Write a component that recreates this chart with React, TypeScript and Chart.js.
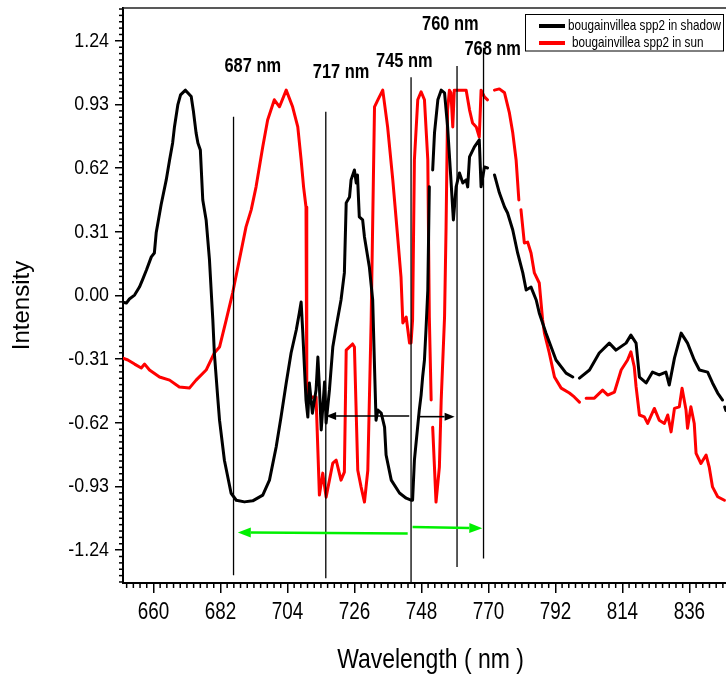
import { useEffect, useRef } from 'react';
import { Chart, registerables } from 'chart.js';

Chart.register(...registerables);

// ---------- data (wavelength in nm, normalised intensity) ----------
const shadowWavelength = [
  650.0, 651.1, 652.1, 653.8, 655.4, 656.4, 657.7, 659.3, 660.3, 660.9,
  662.5, 664.2, 665.3, 666.3, 666.9, 668.0, 668.9, 670.5, 672.4, 673.1,
  674.0, 674.6, 675.4, 676.2, 677.3, 678.4, 679.0, 679.5, 680.0, 681.1,
  681.7, 683.3, 685.5, 687.2, 689.9, 692.6, 695.9, 698.1, 700.3, 701.9,
  703.6, 705.2, 706.9, 707.9, 708.5, 709.0, 710.1, 710.7, 711.2, 712.2,
  713.4, 714.0, 714.5, 715.1, 716.2, 716.7, 717.8, 718.9, 720.0, 721.6,
  722.7, 723.3, 724.4, 724.9, 726.0, 726.6, 727.0, 727.6, 728.7, 729.3,
  730.9, 732.0, 732.6, 733.1, 733.7, 734.8, 735.9, 736.4, 738.1, 740.8,
  743.0, 744.6, 745.1, 745.7, 747.3, 747.9, 748.4, 749.0, 749.5, 750.1,
  750.6, 751.1, 751.7, 752.3, 753.4, 754.5, 755.6, 756.6, 757.7, 758.5,
  759.4, 760.5, 761.6, 762.7, 763.2, 763.8, 765.4, 767.0, 767.6, 768.7,
  769.7, 770.8, 772.0, 773.6, 775.3, 776.3, 778.0, 779.6, 781.3, 782.4,
  784.0, 785.7, 786.7, 788.9, 792.2, 795.5, 797.7, 798.8, 799.9, 803.2,
  806.4, 809.7, 811.9, 815.2, 816.8, 818.5, 819.6, 821.8, 823.9, 826.1,
  828.3, 829.4, 831.1, 833.3, 835.4, 837.6, 839.3, 842.0, 843.6, 845.3,
  846.9, 847.2, 847.6, 848.0,
];
const shadowIntensity = [
  -0.032, -0.037, -0.017, 0.002, 0.041, 0.076, 0.124, 0.188, 0.207, 0.305,
  0.441, 0.563, 0.660, 0.743, 0.821, 0.928, 0.977, 1.000, 0.969, 0.900,
  0.792, 0.743, 0.709, 0.465, 0.368, 0.173, 0.012, -0.119, -0.280, -0.495,
  -0.607, -0.802, -0.963, -0.997, -1.005, -1.000, -0.972, -0.899, -0.738, -0.592,
  -0.426, -0.280, -0.168, -0.085, -0.032, -0.168, -0.509, -0.592, -0.426, -0.573,
  -0.460, -0.300, -0.446, -0.655, -0.421, -0.621, -0.460, -0.251, -0.153, -0.022,
  0.110, 0.451, 0.480, 0.563, 0.611, 0.548, 0.587, 0.383, 0.368, 0.285,
  0.139, -0.022, -0.348, -0.607, -0.558, -0.573, -0.641, -0.777, -0.899, -0.962,
  -0.987, -0.997, -0.997, -0.802, -0.558, -0.485, -0.397, -0.314, -0.168, 0.027,
  0.529, null, 0.611, 0.792, 0.953, 1.000, 0.987, 0.821, 0.563, 0.368,
  0.529, 0.597, 0.548, 0.563, 0.529, 0.675, 0.724, 0.758, 0.529, 0.626,
  0.621, null, 0.587, 0.500, 0.431, 0.402, 0.319, 0.207, 0.110, 0.027,
  0.041, -0.022, -0.085, -0.183, -0.314, -0.378, -0.397, null, -0.402, -0.363,
  -0.280, -0.232, -0.266, -0.232, -0.193, -0.232, -0.397, -0.426, -0.373, -0.387,
  -0.373, -0.436, -0.305, -0.183, -0.232, -0.314, -0.363, -0.373, -0.426, -0.475,
  -0.509, null, -0.543, -0.560,
];

const sunWavelength = [
  650.0, 651.6, 653.8, 656.0, 657.1, 658.7, 662.0, 665.3, 668.5, 671.8,
  674.0, 677.3, 680.0, 681.7, 683.9, 686.0, 688.2, 690.4, 692.1, 693.7,
  695.9, 697.5, 699.7, 701.4, 703.6, 705.7, 707.4, 708.5, 709.3, 710.1,
  710.3, 710.4, 711.2, 712.3, 713.4, 714.5, 715.6, 716.7, 718.9, 720.0,
  721.6, 722.7, 723.3, 725.4, 726.0, 727.1, 728.2, 729.3, 730.4, 731.5,
  732.6, 733.7, 735.3, 736.9, 738.6, 740.2, 741.3, 741.9, 743.0, 744.1,
  744.6, 745.1, 745.7, 746.8, 747.9, 749.0, 750.1, 750.6, 751.2, 751.5,
  751.7, 752.8, 753.9, 754.5, 755.6, 756.1, 756.6, 757.2, 757.7, 758.3,
  758.8, 762.7, 763.8, 764.8, 766.0, 767.0, 767.6, 768.7, 769.7, 770.8,
  772.0, 773.6, 775.3, 776.9, 778.0, 779.1, 780.0, 780.3, 780.7, 781.8,
  782.9, 784.0, 785.1, 786.7, 787.8, 788.4, 790.0, 791.7, 793.9, 796.6,
  798.2, 799.9, 801.0, 802.1, 804.8, 807.5, 809.2, 811.4, 813.6, 815.7,
  816.8, 817.9, 818.5, 819.6, 821.2, 822.3, 824.5, 826.1, 827.8, 828.9,
  830.0, 831.1, 832.7, 833.6, 834.9, 835.4, 836.5, 837.6, 838.2, 839.8,
  841.5, 842.5, 843.6, 845.3, 847.5,
];
const sunIntensity = [
  -0.305, -0.314, -0.334, -0.353, -0.334, -0.363, -0.397, -0.412, -0.446, -0.451,
  -0.412, -0.363, -0.280, -0.251, -0.119, 0.012, 0.173, 0.334, 0.417, 0.529,
  0.724, 0.855, 0.953, 0.919, 1.000, 0.919, 0.821, 0.660, 0.529, 0.431,
  -0.119, -0.446, -0.509, -0.494, -0.494, -0.972, -0.865, -0.982, -0.816, -0.802,
  -0.899, -0.860, -0.266, -0.236, -0.251, -0.851, -0.933, -1.006, -0.851, -0.119,
  0.919, 0.953, 1.000, 0.821, 0.563, 0.285, 0.090, -0.134, -0.105, -0.231,
  -0.231, -0.119, 0.660, 0.953, 0.992, 0.953, 0.660, -0.105, -0.509, null,
  -0.641, -1.006, -0.836, -0.509, -0.105, 0.334, 0.904, 1.000, 0.987, 0.821,
  1.000, 1.000, 0.904, 0.840, 0.821, 0.772, 1.000, 0.967, 0.953, null,
  1.000, 1.006, 0.987, 0.889, 0.792, 0.660, 0.465, null, 0.417, 0.256,
  0.260, 0.207, 0.110, 0.061, -0.119, -0.183, -0.280, -0.397, -0.451, -0.475,
  -0.494, -0.519, null, -0.500, -0.500, -0.461, -0.485, -0.470, -0.363, -0.314,
  -0.274, -0.347, -0.444, -0.582, -0.591, -0.623, -0.550, -0.607, -0.623, -0.582,
  -0.664, -0.550, -0.542, -0.452, -0.558, -0.647, -0.542, -0.623, -0.769, -0.818,
  -0.777, -0.834, -0.932, -0.980, -0.997,
];

const seriesNames = ['bougainvillea spp2 in shadow', 'bougainvillea spp2 in sun'];
const xTickValues = [660, 682, 704, 726, 748, 770, 792, 814, 836];
const yTickValues = [-1.24, -0.93, -0.62, -0.31, 0, 0.31, 0.62, 0.93, 1.24];

// marker lines at the annotated wavelengths
const markerWavelength = [686.3, 716.6, 744.6, 759.7, 768.4];
const markerTop = [0.870, 0.895, 1.063, 1.118, 1.206];
const markerBottom = [-1.362, -1.377, -1.40, -1.322, -1.281];
const markerLabels = ['687 nm', '717 nm', '745 nm', '760 nm', '768 nm'];
const markerLabelX = [692.6, 721.6, 742.4, 757.5, 771.4];
const markerLabelY = [1.115, 1.084, 1.139, 1.318, 1.196];

// arrows: [fromX, fromY, toX, toY]
const blackArrows = [
  [744.0, -0.587, 716.7, -0.587],
  [746.8, -0.590, 758.9, -0.590],
];
const greenArrows = [
  [743.5, -1.159, 687.7, -1.154],
  [745.1, -1.127, 768.0, -1.133],
];

const SANS = '"Liberation Sans", Arial, Helvetica, sans-serif';

function drawText(
  ctx: CanvasRenderingContext2D, s: string, x: number, y: number,
  size: number, sx: number, align: CanvasTextAlign, bold = false,
) {
  ctx.save();
  ctx.font = `${bold ? 'bold ' : ''}${size}px ${SANS}`;
  ctx.textAlign = align;
  ctx.textBaseline = 'middle';
  ctx.fillStyle = '#000';
  ctx.translate(x, y);
  ctx.scale(sx, 1);
  ctx.fillText(s, 0, 0);
  ctx.restore();
}

function drawArrow(
  ctx: CanvasRenderingContext2D, x1: number, y1: number, x2: number, y2: number,
  color: string, lw: number, hl: number, hw: number,
) {
  const a = Math.atan2(y2 - y1, x2 - x1);
  const bx = x2 - hl * Math.cos(a);
  const by = y2 - hl * Math.sin(a);
  ctx.strokeStyle = color;
  ctx.fillStyle = color;
  ctx.lineWidth = lw;
  ctx.beginPath();
  ctx.moveTo(x1, y1);
  ctx.lineTo(bx, by);
  ctx.stroke();
  ctx.beginPath();
  ctx.moveTo(x2, y2);
  ctx.lineTo(bx - hw * Math.sin(a), by + hw * Math.cos(a));
  ctx.lineTo(bx + hw * Math.sin(a), by - hw * Math.cos(a));
  ctx.closePath();
  ctx.fill();
}

const overlayPlugin = {
  id: 'overlay',
  afterDraw(chart: any) {
    const { ctx, chartArea: ca, scales } = chart;
    const xs = scales.x;
    const ys = scales.y;
    const px = (v: number) => xs.getPixelForValue(v);
    const py = (v: number) => ys.getPixelForValue(v);
    ctx.save();

    // top frame line
    ctx.strokeStyle = '#222';
    ctx.lineWidth = 1.5;
    ctx.beginPath();
    ctx.moveTo(ca.left, ca.top);
    ctx.lineTo(ca.right, ca.top);
    ctx.stroke();

    // minor ticks
    ctx.strokeStyle = '#000';
    ctx.lineWidth = 1.5;
    const xStep = 2.2;
    for (let k = -10; k <= 100; k++) {
      if (k % 10 === 0) continue;
      const v = 660 + k * xStep;
      if (v < xs.min - 1e-6 || v > xs.max + 1e-6) continue;
      const p = px(v);
      ctx.beginPath();
      ctx.moveTo(p, ca.bottom);
      ctx.lineTo(p, ca.bottom + 5);
      ctx.stroke();
    }
    const yStep = 0.031;
    for (let k = -50; k <= 50; k++) {
      if (k % 10 === 0) continue;
      const v = k * yStep;
      if (v < ys.min - 1e-6 || v > ys.max + 1e-6) continue;
      const p = py(v);
      ctx.beginPath();
      ctx.moveTo(ca.left - 4, p);
      ctx.lineTo(ca.left, p);
      ctx.stroke();
    }

    // tick labels
    xs.ticks.forEach((t: any) => {
      drawText(ctx, String(t.value), px(t.value), ca.bottom + 30, 23, 0.82, 'center');
    });
    ys.ticks.forEach((t: any) => {
      drawText(ctx, Number(t.value).toFixed(2), ca.left - 14, py(t.value), 21, 0.85, 'right');
    });

    // axis titles
    drawText(ctx, 'Wavelength ( nm )', (ca.left + ca.right) / 2 + 3, ca.bottom + 77, 28, 0.82, 'center');
    ctx.save();
    ctx.translate(22, (ca.top + ca.bottom) / 2 + 10);
    ctx.rotate(-Math.PI / 2);
    drawText(ctx, 'Intensity', 0, 0, 24, 1, 'center');
    ctx.restore();

    // marker lines
    ctx.strokeStyle = '#000';
    ctx.lineWidth = 1.3;
    markerWavelength.forEach((w, i) => {
      const p = px(w);
      ctx.beginPath();
      ctx.moveTo(p, py(markerTop[i]));
      ctx.lineTo(p, py(markerBottom[i]));
      ctx.stroke();
    });
    markerLabels.forEach((s, i) => {
      drawText(ctx, s, px(markerLabelX[i]), py(markerLabelY[i]), 20, 0.82, 'center', true);
    });

    // arrows
    blackArrows.forEach(([a, b, c, d]) =>
      drawArrow(ctx, px(a), py(b), px(c), py(d), '#000', 1.6, 10, 4));
    greenArrows.forEach(([a, b, c, d]) =>
      drawArrow(ctx, px(a), py(b), px(c), py(d), '#00f000', 2.4, 13, 5));

    // legend
    const lx = 525.5, ly = 14.5, lw = 198, lh = 36.5;
    ctx.fillStyle = '#fff';
    ctx.fillRect(lx, ly, lw, lh);
    ctx.strokeStyle = '#000';
    ctx.lineWidth = 1;
    ctx.strokeRect(lx, ly, lw, lh);
    const colors = ['#000', '#ff0000'];
    const rows = [26, 43];
    const textX = [568, 572];
    seriesNames.forEach((name, i) => {
      ctx.strokeStyle = colors[i];
      ctx.lineWidth = 4;
      ctx.beginPath();
      ctx.moveTo(539, rows[i]);
      ctx.lineTo(565, rows[i]);
      ctx.stroke();
      drawText(ctx, name, textX[i], rows[i], 15, 0.78, 'left');
    });

    ctx.restore();
  },
};

export default function App() {
  const ref = useRef<HTMLCanvasElement>(null);
  useEffect(() => {
    const canvas = ref.current;
    if (!canvas) return;
    const shadowPts = shadowWavelength.map((x, i) => ({ x, y: shadowIntensity[i] }));
    const sunPts = sunWavelength.map((x, i) => ({ x, y: sunIntensity[i] }));
    const chart = new Chart(canvas, {
      type: 'line',
      data: {
        datasets: [
          {
            label: seriesNames[0],
            data: shadowPts as any,
            borderColor: '#000',
            borderWidth: 3,
            pointRadius: 0,
            tension: 0,
            spanGaps: false,
            borderJoinStyle: 'round',
            borderCapStyle: 'round',
          },
          {
            label: seriesNames[1],
            data: sunPts as any,
            borderColor: '#ff0000',
            borderWidth: 3,
            pointRadius: 0,
            tension: 0,
            spanGaps: false,
            borderJoinStyle: 'round',
            borderCapStyle: 'round',
          },
        ],
      },
      options: {
        responsive: false,
        animation: false,
        devicePixelRatio: 1,
        layout: { padding: { left: 0, right: 0, top: 8, bottom: 0 } },
        plugins: { legend: { display: false }, tooltip: { enabled: false } },
        scales: {
          x: {
            type: 'linear',
            min: 650,
            max: 850,
            afterBuildTicks: (s: any) => { s.ticks = xTickValues.map((v) => ({ value: v })); },
            afterFit: (s: any) => { s.height = 97; },
            ticks: { display: false },
            grid: { display: true, drawOnChartArea: false, drawTicks: true, tickLength: 10, color: '#000', lineWidth: 1.5 },
            border: { display: true, color: '#000', width: 2 },
          },
          y: {
            type: 'linear',
            min: -1.4,
            max: 1.4,
            afterBuildTicks: (s: any) => { s.ticks = yTickValues.map((v) => ({ value: v })); },
            afterFit: (s: any) => { s.width = 123; },
            ticks: { display: false },
            grid: { display: true, drawOnChartArea: false, drawTicks: true, tickLength: 8, color: '#000', lineWidth: 1.5 },
            border: { display: true, color: '#000', width: 2 },
          },
        },
      },
      plugins: [overlayPlugin],
    });
    return () => chart.destroy();
  }, []);
  return (
    <div style={{ position: 'fixed', left: 0, top: 0, width: 726, height: 680, overflow: 'hidden', background: '#fff' }}>
      <canvas ref={ref} width={732} height={680} style={{ display: 'block', width: 732, height: 680 }} />
    </div>
  );
}
